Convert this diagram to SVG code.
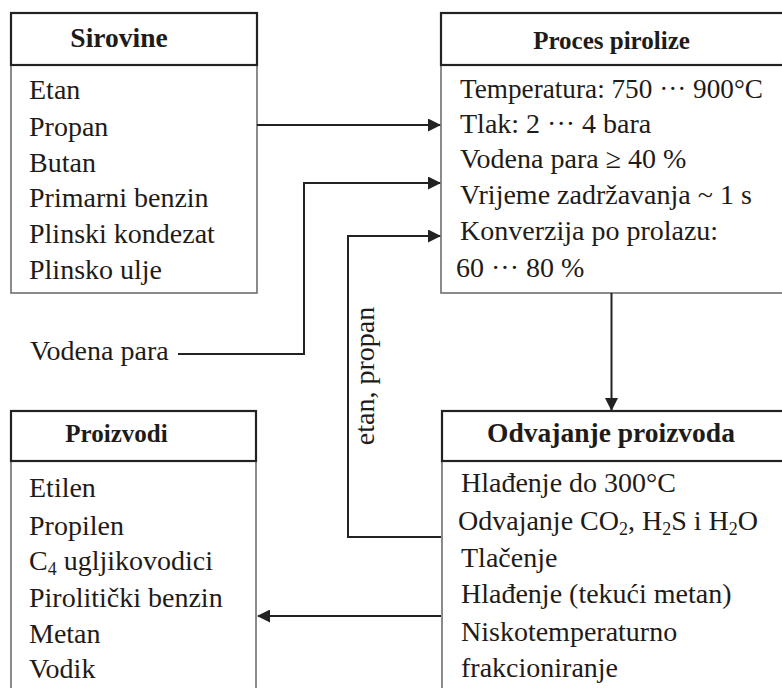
<svg xmlns="http://www.w3.org/2000/svg" width="782" height="688" viewBox="0 0 782 688">
<defs>
<style>
text{font-family:"Liberation Serif","Times New Roman",serif;fill:#1e1b18;}
.b{font-size:28px;}
.h{font-weight:bold;}
.hdr{fill:#fff;stroke:#222;stroke-width:2.2;}
.body{fill:#fff;stroke:#6e6e6e;stroke-width:1.6;}
.c{fill:none;stroke:#222;stroke-width:2;}
</style>
<marker id="ar" viewBox="0 0 13 13" refX="12" refY="6.5" markerWidth="13" markerHeight="13" markerUnits="userSpaceOnUse" orient="auto">
<path d="M0,0 L13,6.5 L0,13 z" fill="#222"/>
</marker>
</defs>
<rect width="782" height="688" fill="#fff"/>

<g id="sirovine">
<rect class="body" x="11" y="65" width="246" height="228"/>
<rect class="hdr" x="11" y="13" width="246" height="52"/>
<text class="h" x="119" y="47" font-size="27.5" text-anchor="middle">Sirovine</text>
<text class="b" x="29" y="99">Etan</text>
<text class="b" x="29" y="136">Propan</text>
<text class="b" x="29" y="172">Butan</text>
<text class="b" x="29" y="207">Primarni benzin</text>
<text class="b" x="29" y="243">Plinski kondezat</text>
<text class="b" x="29" y="279">Plinsko ulje</text>
</g>

<g id="proces">
<rect class="body" x="441" y="65" width="350" height="228"/>
<rect class="hdr" x="441" y="13" width="350" height="52"/>
<text class="h" x="611.5" y="49" font-size="25" text-anchor="middle">Proces pirolize</text>
<text class="b" x="460" y="98" textLength="303" lengthAdjust="spacingAndGlyphs">Temperatura: 750 ··· 900°C</text>
<text class="b" x="460" y="133">Tlak: 2 ··· 4 bara</text>
<text class="b" x="460" y="168">Vodena para ≥ 40 %</text>
<text class="b" x="460" y="204">Vrijeme zadržavanja ~ 1 s</text>
<text class="b" x="460" y="240">Konverzija po prolazu:</text>
<text class="b" x="456" y="277">60 ··· 80 %</text>
</g>

<g id="vodena-para">
<text class="b" x="30" y="360">Vodena para</text>
</g>

<g id="proizvodi">
<rect class="body" x="11" y="461" width="245" height="240"/>
<rect class="hdr" x="11" y="411" width="245" height="50"/>
<text class="h" x="116.5" y="442" font-size="25" text-anchor="middle">Proizvodi</text>
<text class="b" x="29" y="497">Etilen</text>
<text class="b" x="29" y="535">Propilen</text>
<text class="b" x="29" y="570">C<tspan dy="5" font-size="18">4</tspan><tspan dy="-5"> ugljikovodici</tspan></text>
<text class="b" x="29" y="607">Pirolitički benzin</text>
<text class="b" x="29" y="643">Metan</text>
<text class="b" x="29" y="678">Vodik</text>
</g>

<g id="odvajanje">
<rect class="body" x="442" y="461" width="350" height="240"/>
<rect class="hdr" x="442" y="411" width="350" height="50"/>
<text class="h" x="611" y="442" font-size="27.5" text-anchor="middle">Odvajanje proizvoda</text>
<text class="b" x="461" y="492">Hlađenje do 300°C</text>
<text class="b" x="458" y="530">Odvajanje CO<tspan dy="5" font-size="18">2</tspan><tspan dy="-5">, H</tspan><tspan dy="5" font-size="18">2</tspan><tspan dy="-5">S i H</tspan><tspan dy="5" font-size="18">2</tspan><tspan dy="-5">O</tspan></text>
<text class="b" x="461" y="567">Tlačenje</text>
<text class="b" x="461" y="603">Hlađenje (tekući metan)</text>
<text class="b" x="461" y="641">Niskotemperaturno</text>
<text class="b" x="461" y="677">frakcioniranje</text>
</g>

<g id="connectors">
<path class="c" d="M257,125 H440" marker-end="url(#ar)"/>
<path class="c" d="M178,354 H304 V183 H440" marker-end="url(#ar)"/>
<path class="c" d="M441,537 H348 V236 H440" marker-end="url(#ar)"/>
<path class="c" d="M611.5,293 V410" marker-end="url(#ar)"/>
<path class="c" d="M441,616 H258" marker-end="url(#ar)"/>
<text class="b" transform="translate(373.5,376) rotate(-90)" text-anchor="middle">etan, propan</text>
</g>
</svg>
